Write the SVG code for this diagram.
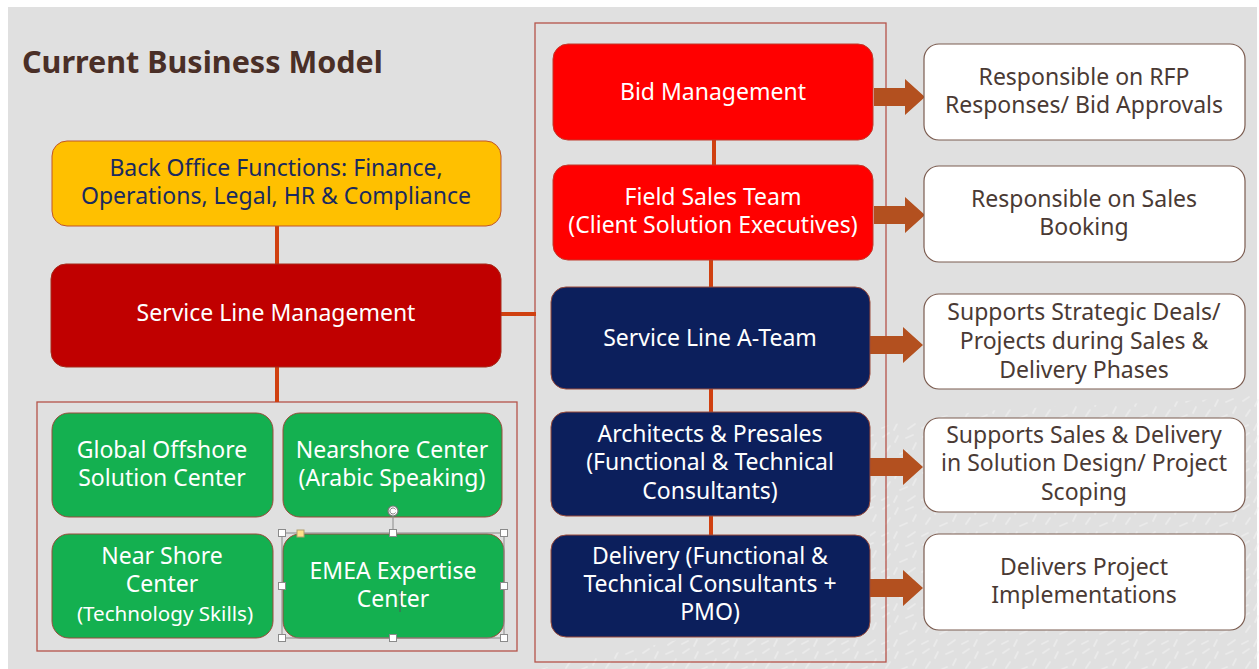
<svg xmlns="http://www.w3.org/2000/svg" width="1259" height="669" viewBox="0 0 1259 669">
  <defs>
    <style>
      .lbl { font-family: "Noto Sans", "Open Sans", "Liberation Sans", sans-serif; font-size: 23px; text-anchor: middle; }
      .sm { font-size: 20.6px; }
      .wt { fill: #ffffff; }
      .nv { fill: #1a2a5e; }
      .br { fill: #4a3a34; }
      .red { fill: #ff0000; stroke: #c0392b; stroke-width: 1; }
      .dred { fill: #c00000; stroke: #a52a1a; stroke-width: 1; }
      .navy { fill: #0c1f5c; stroke: #9a4a3a; stroke-width: 1; }
      .yel { fill: #ffc000; stroke: #c0552b; stroke-width: 1; }
      .grn { fill: #14b050; stroke: #9a4a3a; stroke-width: 1; }
      .note { fill: #ffffff; stroke: #7b5c50; stroke-width: 1.2; }
      .frame { fill: none; stroke: #b5544a; stroke-width: 1.3; }
      .wire { stroke: #d04010; stroke-width: 4; fill: none; }
      .arr { fill: #b3501f; }
      .hdl { fill: #ffffff; stroke: #8a8a8a; stroke-width: 1; }
    </style>
    <pattern id="grain" width="40" height="36" patternUnits="userSpaceOnUse">
      <g stroke="#f2f2f2" stroke-width="1.8" stroke-linecap="round">
        <line x1="3" y1="5" x2="9" y2="1"/>
        <line x1="15" y1="10" x2="18" y2="4"/>
        <line x1="26" y1="6" x2="33" y2="3"/>
        <line x1="6" y1="20" x2="10" y2="14"/>
        <line x1="20" y1="22" x2="27" y2="19"/>
        <line x1="33" y1="17" x2="36" y2="11"/>
        <line x1="2" y1="32" x2="8" y2="29"/>
        <line x1="14" y1="34" x2="17" y2="28"/>
        <line x1="28" y1="33" x2="35" y2="28"/>
      </g>
    </pattern>
  </defs>

  <!-- slide background -->
  <rect x="0" y="0" width="1259" height="669" fill="#ffffff"/>
  <rect x="8" y="7" width="1249" height="662" fill="#e0e0e0"/>
  <!-- decorative grain, lower right -->
  <path d="M870 430 C 980 400, 1120 410, 1259 395 L1259 669 L 540 669 C 640 645, 780 630, 870 570 Z" fill="url(#grain)" opacity="0.55"/>

  <text x="22" y="73" font-family="Noto Sans, Open Sans, Liberation Sans, sans-serif" font-size="30.5" font-weight="bold" fill="#4a2f27">Current Business Model</text>

  <!-- group frames -->
  <rect class="frame" x="535" y="23" width="351" height="639"/>
  <rect class="frame" x="37" y="402" width="480" height="249"/>

  <!-- connectors -->
  <g id="connectors">
    <line class="wire" x1="714" y1="140" x2="714" y2="165"/>
    <line class="wire" x1="711" y1="260" x2="711" y2="287"/>
    <line class="wire" x1="711" y1="389" x2="711" y2="412"/>
    <line class="wire" x1="711" y1="516" x2="711" y2="535"/>
    <line class="wire" x1="277" y1="226" x2="277" y2="264"/>
    <line class="wire" x1="277" y1="367" x2="277" y2="402"/>
    <line class="wire" x1="501" y1="314" x2="536" y2="314"/>
    <path class="arr" d="M874 88 H905 V79 L925 97 L905 115 V106 H874 Z"/>
    <path class="arr" d="M874 206 H905 V197 L925 215 L905 233 V224 H874 Z"/>
    <path class="arr" d="M870 336 H903 V327 L923 345 L903 363 V354 H870 Z"/>
    <path class="arr" d="M870 458 H903 V449 L923 467 L903 485 V476 H870 Z"/>
    <path class="arr" d="M870 579 H903 V570 L923 588 L903 606 V597 H870 Z"/>
  </g>

  <!-- sales and delivery column -->
  <g id="bid-management">
    <rect class="red" x="553" y="44" width="320" height="96" rx="15"/>
    <text class="lbl wt" x="713" y="100">Bid Management</text>
  </g>
  <g id="field-sales">
    <rect class="red" x="553" y="165" width="320" height="95" rx="15"/>
    <text class="lbl wt" x="713" y="205">Field Sales Team</text>
    <text class="lbl wt" x="713" y="233">(Client Solution Executives)</text>
  </g>
  <g id="a-team">
    <rect class="navy" x="551" y="287" width="319" height="102" rx="15"/>
    <text class="lbl wt" x="710" y="346">Service Line A-Team</text>
  </g>
  <g id="architects">
    <rect class="navy" x="551" y="412" width="319" height="104" rx="15"/>
    <text class="lbl wt" x="710" y="442">Architects &amp; Presales</text>
    <text class="lbl wt" x="710" y="470">(Functional &amp; Technical</text>
    <text class="lbl wt" x="710" y="499">Consultants)</text>
  </g>
  <g id="delivery">
    <rect class="navy" x="551" y="535" width="319" height="102" rx="15"/>
    <text class="lbl wt" x="710" y="564">Delivery (Functional &amp;</text>
    <text class="lbl wt" x="710" y="592">Technical Consultants +</text>
    <text class="lbl wt" x="710" y="620">PMO)</text>
  </g>

  <!-- responsibilities -->
  <g id="rfp-note">
    <rect class="note" x="924" y="44" width="321" height="96" rx="15"/>
    <text class="lbl br" x="1084" y="85">Responsible on RFP</text>
    <text class="lbl br" x="1084" y="113">Responses/ Bid Approvals</text>
  </g>
  <g id="booking-note">
    <rect class="note" x="924" y="166" width="321" height="96" rx="15"/>
    <text class="lbl br" x="1084" y="207">Responsible on Sales</text>
    <text class="lbl br" x="1084" y="235">Booking</text>
  </g>
  <g id="strategic-note">
    <rect class="note" x="924" y="294" width="321" height="95" rx="15"/>
    <text class="lbl br" x="1084" y="320">Supports Strategic Deals/</text>
    <text class="lbl br" x="1084" y="349">Projects during Sales &amp;</text>
    <text class="lbl br" x="1084" y="378">Delivery Phases</text>
  </g>
  <g id="design-note">
    <rect class="note" x="924" y="418" width="321" height="94" rx="15"/>
    <text class="lbl br" x="1084" y="443">Supports Sales &amp; Delivery</text>
    <text class="lbl br" x="1084" y="471">in Solution Design/ Project</text>
    <text class="lbl br" x="1084" y="500">Scoping</text>
  </g>
  <g id="implementation-note">
    <rect class="note" x="924" y="534" width="321" height="96" rx="15"/>
    <text class="lbl br" x="1084" y="575">Delivers Project</text>
    <text class="lbl br" x="1084" y="603">Implementations</text>
  </g>

  <!-- management side -->
  <g id="back-office">
    <rect class="yel" x="52" y="141" width="449" height="85" rx="15"/>
    <text class="lbl nv" x="276" y="176">Back Office Functions: Finance,</text>
    <text class="lbl nv" x="276" y="204">Operations, Legal, HR &amp; Compliance</text>
  </g>
  <g id="service-line-management">
    <rect class="dred" x="51" y="264" width="450" height="103" rx="15"/>
    <text class="lbl wt" x="276" y="321">Service Line Management</text>
  </g>

  <!-- delivery centers -->
  <g id="global-offshore">
    <rect class="grn" x="52" y="413" width="221" height="104" rx="17"/>
    <text class="lbl wt" x="162" y="458">Global Offshore</text>
    <text class="lbl wt" x="162" y="486">Solution Center</text>
  </g>
  <g id="nearshore-arabic">
    <rect class="grn" x="283" y="413" width="219" height="104" rx="17"/>
    <text class="lbl wt" x="392" y="458">Nearshore Center</text>
    <text class="lbl wt" x="392" y="486">(Arabic Speaking)</text>
  </g>
  <g id="near-shore-tech">
    <rect class="grn" x="52" y="534" width="221" height="104" rx="17"/>
    <text class="lbl wt" x="162" y="564">Near Shore</text>
    <text class="lbl wt" x="162" y="592">Center</text>
    <text class="lbl sm wt" x="165" y="621">(Technology Skills)</text>
  </g>
  <g id="emea-expertise">
    <rect class="grn" x="283" y="534" width="221" height="104" rx="17"/>
    <text class="lbl wt" x="393" y="579">EMEA Expertise</text>
    <text class="lbl wt" x="393" y="607">Center</text>
    <!-- edit caret and selection handles -->
    <line x1="400" y1="590" x2="400" y2="612" stroke="#555" stroke-width="1"/>
    <rect x="282" y="533" width="222" height="105" fill="none" stroke="#8a8a8a" stroke-width="1"/>
    <line x1="393" y1="516" x2="393" y2="533" stroke="#8a8a8a" stroke-width="1"/>
    <circle cx="393" cy="511" r="5" fill="#ffffff" stroke="#777" stroke-width="1.2"/>
    <path d="M395.5 509.5 A3 3 0 1 0 395.5 512.5" fill="none" stroke="#777" stroke-width="1"/>
    <rect x="297" y="530" width="7" height="7" fill="#ffe08a" stroke="#b0a070" stroke-width="1"/>
    <rect class="hdl" x="278.5" y="529.5" width="7" height="7"/>
    <rect class="hdl" x="389.5" y="529.5" width="7" height="7"/>
    <rect class="hdl" x="500.5" y="529.5" width="7" height="7"/>
    <rect class="hdl" x="278.5" y="582.5" width="7" height="7"/>
    <rect class="hdl" x="500.5" y="582.5" width="7" height="7"/>
    <rect class="hdl" x="278.5" y="634.5" width="7" height="7"/>
    <rect class="hdl" x="389.5" y="634.5" width="7" height="7"/>
    <rect class="hdl" x="500.5" y="634.5" width="7" height="7"/>
  </g>
</svg>
